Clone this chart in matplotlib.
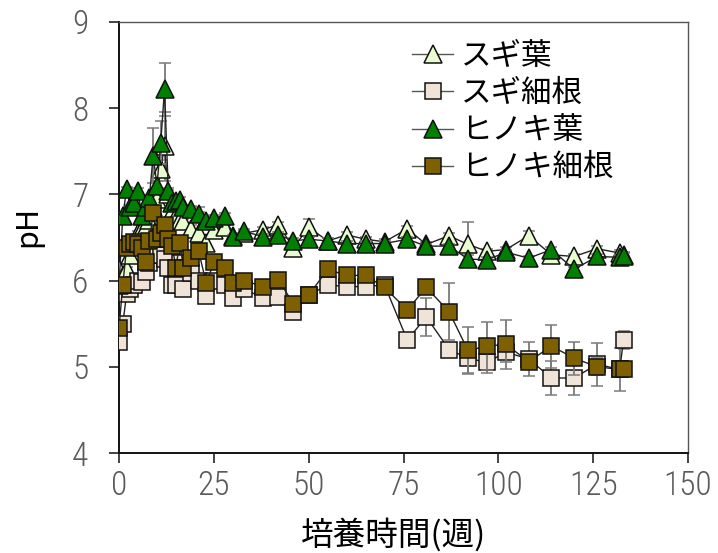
import matplotlib
matplotlib.use("Agg")
import matplotlib.pyplot as plt
from matplotlib.lines import Line2D
from matplotlib import font_manager

# Incubation time (weeks)
weeks = [0, 1, 2, 3, 4, 5, 6, 7, 8, 9, 10, 11, 12, 13, 14, 15, 16, 17,
         19, 21, 23, 25, 28, 30,
         33, 38, 42, 46, 50, 55, 60, 65,
         70, 76, 81, 87, 92, 97, 102, 108, 114, 120, 126, 132, 133]

# pH of each litter type
sugi_leaf = [6.13, 6.05, 6.13, 6.30, 6.45, 6.55, 6.60, 6.62, 6.70, 6.85, 6.95, 7.30, 7.56, 7.00, 6.80, 6.75, 6.70, 6.69,
             6.60, 6.55, 6.44, 6.59, 6.62, 6.52,
             6.55, 6.59, 6.65, 6.38, 6.62, 6.46, 6.53, 6.48,
             6.45, 6.60, 6.42, 6.52, 6.42, 6.34, 6.36, 6.52, 6.30, 6.28, 6.37, 6.32, 6.30]
sugi_root = [5.29, 5.50, 5.84, 5.90, 5.95, 6.00, 5.98, 6.10, 6.20, 6.30, 6.35, 6.30, 6.25, 6.15, 5.95, 5.95, 6.20, 5.90,
             6.09, 6.00, 5.82, 6.00, 5.95, 5.80,
             5.90, 5.80, 5.81, 5.64, 5.83, 5.95, 5.93, 5.93,
             5.95, 5.31, 5.58, 5.20, 5.10, 5.05, 5.17, 5.09, 4.87, 4.87, 5.03, 4.97, 5.31]
hinoki_leaf = [5.95, 6.75, 7.06, 6.85, 6.90, 7.04, 6.75, 6.85, 6.96, 7.45, 7.10, 7.60, 8.22, 7.04, 6.90, 6.92, 6.94, 6.85,
               6.83, 6.77, 6.69, 6.73, 6.75, 6.50,
               6.57, 6.51, 6.53, 6.46, 6.48, 6.46, 6.43, 6.43,
               6.43, 6.48, 6.40, 6.40, 6.25, 6.24, 6.33, 6.26, 6.36, 6.13, 6.28, 6.27, 6.29]
hinoki_root = [5.45, 5.95, 6.38, 6.42, 6.45, 6.42, 6.38, 6.22, 6.46, 6.78, 6.48, 6.55, 6.65, 6.48, 6.40, 6.15, 6.44, 6.15,
               6.26, 6.34, 5.97, 6.21, 6.15, 5.97,
               6.00, 5.93, 6.01, 5.73, 5.83, 6.13, 6.06, 6.06,
               5.92, 5.66, 5.92, 5.64, 5.19, 5.24, 5.26, 5.06, 5.24, 5.10, 5.00, 4.97, 4.98]

# Standard errors
sugi_leaf_err = [0.03, 0.03, 0.03, 0.03, 0.03, 0.03, 0.03, 0.03, 0.03, 0.03, 0.05, 0.10, 0.40, 0.05, 0.03, 0.03, 0.03, 0.03,
                 0.05, 0.30, 0.05, 0.03, 0.03, 0.03,
                 0.03, 0.03, 0.03, 0.03, 0.10, 0.03, 0.03, 0.03,
                 0.03, 0.03, 0.03, 0.03, 0.26, 0.03, 0.03, 0.05, 0.03, 0.03, 0.03, 0.03, 0.03]
sugi_root_err = [0.03, 0.03, 0.03, 0.03, 0.03, 0.03, 0.03, 0.03, 0.03, 0.03, 0.03, 0.03, 0.03, 0.03, 0.03, 0.03, 0.03, 0.03,
                 0.03, 0.03, 0.03, 0.03, 0.03, 0.03,
                 0.03, 0.03, 0.03, 0.03, 0.03, 0.03, 0.03, 0.03,
                 0.03, 0.03, 0.22, 0.05, 0.17, 0.12, 0.12, 0.20, 0.20, 0.20, 0.25, 0.25, 0.10]
hinoki_leaf_err = [0.03, 0.03, 0.03, 0.03, 0.03, 0.03, 0.03, 0.03, 0.03, 0.32, 0.05, 0.25, 0.31, 0.03, 0.03, 0.03, 0.03, 0.03,
                   0.03, 0.03, 0.03, 0.03, 0.03, 0.03,
                   0.03, 0.03, 0.03, 0.03, 0.03, 0.03, 0.03, 0.03,
                   0.03, 0.03, 0.03, 0.03, 0.05, 0.03, 0.03, 0.03, 0.03, 0.03, 0.03, 0.03, 0.03]
hinoki_root_err = [0.03, 0.03, 0.03, 0.03, 0.03, 0.03, 0.03, 0.03, 0.03, 0.03, 0.03, 0.03, 0.03, 0.03, 0.03, 0.03, 0.03, 0.03,
                   0.03, 0.03, 0.03, 0.03, 0.03, 0.03,
                   0.03, 0.03, 0.03, 0.03, 0.03, 0.03, 0.03, 0.03,
                   0.03, 0.03, 0.03, 0.33, 0.27, 0.28, 0.28, 0.03, 0.25, 0.19, 0.10, 0.03, 0.03]

labels = ["スギ葉", "スギ細根", "ヒノキ葉", "ヒノキ細根"]
x_ticks = [0, 25, 50, 75, 100, 125, 150]
y_ticks = [4, 5, 6, 7, 8, 9]

cjk = ["Noto Sans CJK JP", "DejaVu Sans"]

# Pick a narrow face for the numbers if one is available
installed = {f.name for f in font_manager.fontManager.ttflist}
num_family = "DejaVu Sans"
for cand in ("Roboto Condensed", "Liberation Sans Narrow", "Open Sans Condensed"):
    if cand in installed:
        num_family = cand
        break
num_props = dict(family=num_family, weight="light", fontsize=24, color="#5a5a5a")

fig = plt.figure(figsize=(7.18, 5.53), dpi=100)
W, H = 718, 553
left, right, top, bottom = 119, 688, 22, 453
ax = fig.add_axes([left / W, 1 - bottom / H, (right - left) / W, (bottom - top) / H])

styles = [
    (sugi_leaf, sugi_leaf_err, "^", 13, "#e8fcd0"),
    (sugi_root, sugi_root_err, "s", 12, "#f0e4d8"),
    (hinoki_leaf, hinoki_leaf_err, "^", 13, "#008000"),
    (hinoki_root, hinoki_root_err, "s", 12, "#7f6000"),
]

handles = []
for i, (vals, err, mk, ms, fc) in enumerate(styles):
    ax.errorbar(weeks, vals, yerr=err, fmt="-", color="#222222", lw=1.0,
                marker=mk, ms=ms, mfc=fc, mec="#111111", mew=1.1,
                ecolor="#7a7a7a", elinewidth=1.3, capsize=4, capthick=1.3,
                zorder=3 + i)
    handles.append(Line2D([], [], color="#555555", lw=1.0, marker=mk, ms=ms,
                          mfc=fc, mec="#111111", mew=1.1))

ax.set_xlim(0, 150)
ax.set_ylim(4, 9)
ax.set_xticks(x_ticks)
ax.set_yticks(y_ticks)
ax.set_xticklabels([str(v) for v in x_ticks], **num_props)
ax.set_yticklabels([str(v) for v in y_ticks], **num_props)
ax.tick_params(axis="x", direction="out", length=7, width=1.2, pad=5, color="#222222")
ax.tick_params(axis="y", direction="out", length=7, width=1.2, pad=15, color="#222222")
ax.minorticks_off()

for side in ("left", "bottom"):
    ax.spines[side].set_linewidth(1.4)
    ax.spines[side].set_color("#111111")
for side in ("top", "right"):
    ax.spines[side].set_linewidth(1.0)
    ax.spines[side].set_color("#555555")

ax.set_xlabel("培養時間(週)", family=cjk, fontsize=23.5)
ax.xaxis.set_label_coords((394 - left) / (right - left), (bottom - 535) / (bottom - top))
ax.xaxis.label.set_va("center")
ax.set_ylabel("pH", family=cjk, fontsize=22)
ax.yaxis.set_label_coords((28 - left) / (right - left), (bottom - 226) / (bottom - top))
ax.yaxis.label.set_va("center")

ax.legend(handles, labels, loc="upper left",
          bbox_to_anchor=((412 - left) / (right - left), (bottom - 41) / (bottom - top)),
          frameon=False, prop={"family": cjk, "size": 22},
          handlelength=1.35, handletextpad=0.25, labelspacing=0.2, borderpad=0,
          borderaxespad=0)

fig.savefig("out.png", dpi=100)
